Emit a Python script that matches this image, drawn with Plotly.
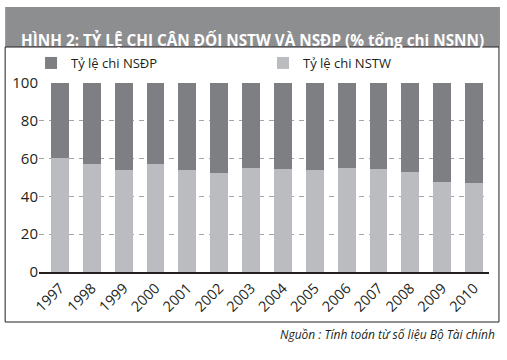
import plotly.graph_objects as go

years = ["1997", "1998", "1999", "2000", "2001", "2002", "2003",
         "2004", "2005", "2006", "2007", "2008", "2009", "2010"]
nstw = [60.5, 57, 54, 57, 54, 52.5, 55, 54.5, 54, 55, 54.5, 53, 47.5, 47]
nsdp = [round(100 - v, 1) for v in nstw]

title_text = "HÌNH 2: TỶ LỆ CHI CÂN ĐỐI NSTW VÀ NSĐP (% tổng chi NSNN)"
source_text = "Nguồn : Tính toán từ số liệu Bộ Tài chính"

dark = "#7e7f82"
light = "#bbbcbf"
font = "Open Sans"


def px_x(px):
    return (px - 37) / 452


def px_y(py):
    return (272 - py) / 189


fig = go.Figure()
fig.add_trace(go.Bar(x=years, y=nstw, name="Tỷ lệ chi NSTW", marker_color=light,
                     marker_line_width=0, legend="legend2"))
fig.add_trace(go.Bar(x=years, y=nsdp, name="Tỷ lệ chi NSĐP", marker_color=dark,
                     marker_line_width=0, legend="legend"))

leg_common = dict(orientation="h", xanchor="left", yanchor="middle",
                  xref="paper", yref="paper",
                  font=dict(size=13, color="#231f20", family=font),
                  bgcolor="rgba(0,0,0,0)", borderwidth=0)

fig.update_layout(
    width=507, height=360,
    barmode="stack", bargap=0.44,
    paper_bgcolor="white", plot_bgcolor="white",
    margin=dict(l=37, r=18, t=83, b=88),
    font=dict(family=font, size=14, color="#231f20"),
    showlegend=True,
    legend=dict(x=px_x(29), y=px_y(63), **leg_common),
    legend2=dict(x=px_x(262), y=px_y(63), **leg_common),
    xaxis=dict(type="category", range=[-0.66, 13.47], tickangle=-45,
               showline=True, linecolor="#231f20", linewidth=2,
               ticks="", showgrid=False, tickfont=dict(size=14.5)),
    yaxis=dict(range=[0, 100], tickvals=[0, 20, 40, 60, 80, 100],
               showgrid=True, gridcolor="#a5a5a5", gridwidth=1, griddash="5px,5px",
               zeroline=False, showline=False, ticks="", tickfont=dict(size=15)),
)

fig.add_shape(type="rect", xref="paper", yref="paper",
              x0=px_x(3), x1=px_x(500), y0=px_y(47), y1=px_y(7),
              fillcolor="#8d8e90", line_width=0, layer="below")
fig.add_shape(type="rect", xref="paper", yref="paper",
              x0=px_x(3), x1=px_x(499), y0=px_y(322), y1=px_y(47),
              fillcolor="rgba(0,0,0,0)", line=dict(color="#231f20", width=1))
fig.add_annotation(text="<b>" + title_text + "</b>", xref="paper", yref="paper",
                   x=px_x(251), y=px_y(27), showarrow=False,
                   font=dict(size=15.3, color="white", family=font))
fig.add_annotation(text="<i>" + source_text + "</i>", xref="paper", yref="paper",
                   x=px_x(497), y=px_y(345), xanchor="right", showarrow=False,
                   font=dict(size=12, color="#231f20", family=font))

fig.write_html("out.html", config={"displayModeBar": False},
               post_script="document.body.style.margin='0';document.body.style.padding='0';")
